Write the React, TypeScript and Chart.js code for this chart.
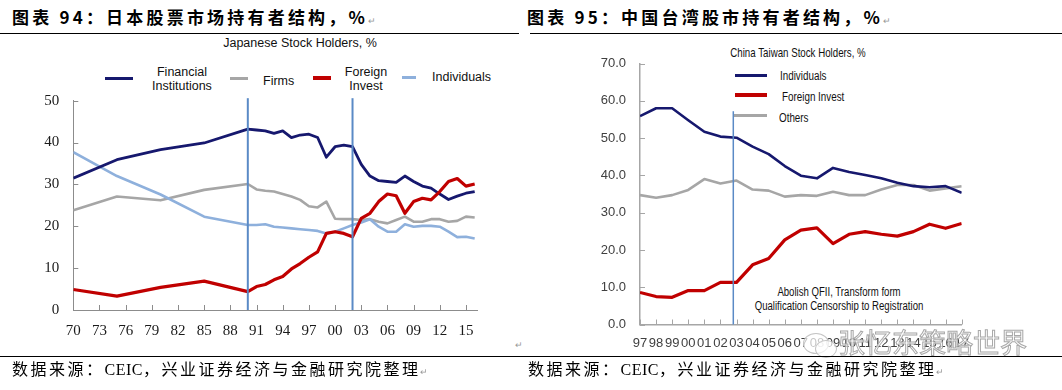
import React, { useEffect, useRef } from "react";
import { Chart, registerables } from "chart.js";

Chart.register(...registerables);

// ---------- Japan: Japanese Stock Holders, % ----------
const jpYears = [
  1970, 1975, 1980, 1985, 1990, 1991, 1992, 1993, 1994, 1995, 1996, 1997, 1998, 1999, 2000,
  2001, 2002, 2003, 2004, 2005, 2006, 2007, 2008, 2009, 2010, 2011, 2012, 2013, 2014, 2015, 2016,
];
const jpFinancial = [
  31.5, 35.9, 38.3, 39.9, 43.2, 43.0, 42.8, 42.2, 42.8, 41.2, 41.8, 42.0, 41.2, 36.5, 39.0,
  39.4, 39.0, 34.8, 32.0, 30.9, 30.7, 30.5, 32.0, 30.7, 29.6, 29.1, 27.7, 26.4, 27.2, 27.9, 28.3,
];
const jpFirms = [
  23.8, 27.1, 26.2, 28.7, 30.1, 28.8, 28.5, 28.3, 27.7, 27.1, 26.3, 24.8, 24.5, 25.9, 21.8,
  21.7, 21.7, 21.5, 21.7, 21.1, 20.7, 21.5, 22.3, 21.1, 21.1, 21.7, 21.7, 21.1, 21.3, 22.3, 22.1,
];
const jpForeign = [
  4.9, 3.3, 5.4, 6.9, 4.4, 5.6, 6.1, 7.2, 8.0, 9.8, 11.1, 12.6, 13.9, 18.3, 18.7,
  18.3, 17.5, 21.9, 23.1, 25.9, 27.7, 27.3, 23.1, 25.9, 26.7, 26.3, 28.3, 30.7, 31.4, 29.6, 30.1,
];
const jpIndividuals = [
  37.7, 32.0, 27.6, 22.3, 20.3, 20.3, 20.5, 19.9, 19.7, 19.5, 19.3, 19.1, 18.9, 18.3, 18.7,
  19.5, 20.3, 20.9, 21.7, 19.9, 18.7, 18.7, 20.5, 19.9, 20.1, 20.1, 19.9, 18.7, 17.4, 17.5, 17.1,
];
const jpTickYears = [1970, 1973, 1976, 1979, 1982, 1985, 1988, 1991, 1994, 1997, 2000, 2003, 2006, 2009, 2012, 2015];
const jpYTicks = [0, 10, 20, 30, 40, 50];
const jpMarkerYears = [1990, 2002];

// ---------- Taiwan: China Taiwan Stock Holders, % ----------
const twYears = [
  1997, 1998, 1999, 2000, 2001, 2002, 2003, 2004, 2005, 2006, 2007,
  2008, 2009, 2010, 2011, 2012, 2013, 2014, 2015, 2016, 2017,
];
const twIndividuals = [
  55.9, 58.0, 58.0, 54.8, 51.7, 50.4, 50.1, 47.7, 45.7, 42.5, 39.9,
  39.2, 42.0, 40.9, 40.1, 39.2, 38.0, 37.1, 36.8, 37.1, 35.3,
];
const twForeign = [
  8.6, 7.5, 7.3, 9.1, 9.1, 11.3, 11.3, 16.0, 17.7, 22.7, 25.3,
  25.9, 21.7, 24.2, 24.9, 24.2, 23.7, 24.9, 26.9, 25.8, 27.1,
];
const twOthers = [
  34.7, 34.0, 34.7, 36.1, 39.0, 37.8, 38.6, 36.2, 35.9, 34.3, 34.7,
  34.5, 35.6, 34.7, 34.7, 36.2, 37.4, 37.4, 35.9, 36.5, 37.1,
];
const twTickYears = twYears;
const twYTicks = [0, 10, 20, 30, 40, 50, 60, 70];
const twMarkerYear = 2002.8;
const twMarkerTop = 57.2;

// ---------- styles ----------
const NAVY = "#16186e";
const GRAY = "#a6a6a6";
const RED = "#c00000";
const LBLUE = "#8eb0dc";
const MARK = "#5a8ac6";
const SANS = "'Liberation Sans', Arial, sans-serif";
const SERIF = "'Liberation Serif', serif";
const CJK = "'Noto Sans CJK SC', sans-serif";

const pts = (xs: number[], ys: number[]) => xs.map((x, i) => ({ x, y: ys[i] }));
const twoDigit = (v: any) => String(Number(v) % 100).padStart(2, "0");

const decorPlugin = {
  id: "decor",
  afterDatasetsDraw(chart: any, _args: any, opts: any) {
    const { ctx, chartArea, scales } = chart;
    const x = scales.x;
    const y = scales.y;
    ctx.save();
    ctx.strokeStyle = opts.tickColor;
    ctx.lineWidth = 1;
    ctx.beginPath();
    x.ticks.forEach((t: any) => {
      const px = Math.round(x.getPixelForValue(t.value)) + 0.5;
      ctx.moveTo(px, chartArea.bottom);
      ctx.lineTo(px, chartArea.bottom - opts.tickLen);
    });
    y.ticks.forEach((t: any) => {
      const py = Math.round(y.getPixelForValue(t.value)) + 0.5;
      ctx.moveTo(chartArea.left, py);
      ctx.lineTo(chartArea.left + opts.tickLen, py);
    });
    ctx.stroke();
    ctx.strokeStyle = opts.markerColor;
    ctx.lineWidth = opts.markerWidth;
    (opts.markers || []).forEach((m: any) => {
      const px = x.getPixelForValue(m.x);
      const top = y.getPixelForValue(m.top);
      ctx.beginPath();
      ctx.moveTo(px, top);
      ctx.lineTo(px, chartArea.bottom);
      ctx.stroke();
    });
    ctx.restore();
  },
};

const abs = (s: React.CSSProperties): React.CSSProperties => ({ position: "absolute", whiteSpace: "pre", ...s });
const narrowL = (s: React.CSSProperties, k = 0.8): React.CSSProperties =>
  abs({ transform: `scaleX(${k})`, transformOrigin: "left center", ...s });
const narrowC = (s: React.CSSProperties, k = 0.8): React.CSSProperties =>
  abs({ transform: `scaleX(${k})`, transformOrigin: "center center", ...s });

export default function App() {
  const jpRef = useRef<HTMLCanvasElement>(null);
  const twRef = useRef<HTMLCanvasElement>(null);

  useEffect(() => {
    const line = { pointRadius: 0, tension: 0, fill: false, borderJoinStyle: "round" as const };
    const jp = new Chart(jpRef.current!, {
      type: "line",
      data: {
        datasets: [
          { label: "Foreign Invest", data: pts(jpYears, jpForeign), borderColor: RED, borderWidth: 3.2, ...line },
          { label: "Financial Institutions", data: pts(jpYears, jpFinancial), borderColor: NAVY, borderWidth: 2.8, ...line },
          { label: "Individuals", data: pts(jpYears, jpIndividuals), borderColor: LBLUE, borderWidth: 2.6, ...line },
          { label: "Firms", data: pts(jpYears, jpFirms), borderColor: GRAY, borderWidth: 2.6, ...line },
        ],
      },
      options: {
        responsive: false,
        animation: false,
        devicePixelRatio: 1,
        events: [],
        layout: { padding: { top: 10.7, right: 22.7, bottom: 0, left: 0 } },
        plugins: {
          legend: { display: false },
          tooltip: { enabled: false },
          decor: {
            tickColor: "#8c8c8c",
            tickLen: 5,
            markerColor: MARK,
            markerWidth: 2,
            markers: jpMarkerYears.map((m) => ({ x: m, top: 50.6 })),
          },
        } as any,
        scales: {
          x: {
            type: "linear",
            min: 1970,
            max: 2016.3,
            afterBuildTicks: (s: any) => {
              s.ticks = jpTickYears.map((v) => ({ value: v }));
            },
            afterFit: (s: any) => {
              s.height = 30;
            },
            grid: { drawOnChartArea: false, drawTicks: false },
            border: { color: "#8c8c8c", width: 1 },
            ticks: {
              callback: twoDigit,
              autoSkip: false,
              maxRotation: 0,
              minRotation: 0,
              padding: 12,
              color: "#1a1a1a",
              font: { family: SERIF, size: 15 },
            },
          },
          y: {
            min: 0,
            max: 50,
            afterBuildTicks: (s: any) => {
              s.ticks = jpYTicks.map((v) => ({ value: v }));
            },
            afterFit: (s: any) => {
              s.width = 73.3;
            },
            grid: { drawOnChartArea: false, drawTicks: true, tickLength: 14, tickColor: "rgba(0,0,0,0)" },
            border: { color: "#8c8c8c", width: 1 },
            ticks: {
              padding: 0,
              color: "#1a1a1a",
              font: { family: SERIF, size: 15 },
            },
          },
        },
      },
      plugins: [decorPlugin],
    });

    const tw = new Chart(twRef.current!, {
      type: "line",
      data: {
        datasets: [
          { label: "Individuals", data: pts(twYears, twIndividuals), borderColor: NAVY, borderWidth: 2.6, ...line },
          { label: "Foreign Invest", data: pts(twYears, twForeign), borderColor: RED, borderWidth: 3.2, ...line },
          { label: "Others", data: pts(twYears, twOthers), borderColor: GRAY, borderWidth: 2.6, ...line },
        ],
      },
      options: {
        responsive: false,
        animation: false,
        devicePixelRatio: 1,
        events: [],
        layout: { padding: { top: 13.5, right: 100.3, bottom: 0, left: 0 } },
        plugins: {
          legend: { display: false },
          tooltip: { enabled: false },
          decor: {
            tickColor: "#a6a6a6",
            tickLen: 5,
            markerColor: MARK,
            markerWidth: 1.5,
            markers: [{ x: twMarkerYear, top: twMarkerTop }],
          },
        } as any,
        scales: {
          x: {
            type: "linear",
            min: 1997,
            max: 2017,
            afterBuildTicks: (s: any) => {
              s.ticks = twTickYears.map((v) => ({ value: v }));
            },
            afterFit: (s: any) => {
              s.height = 30.5;
            },
            grid: { drawOnChartArea: false, drawTicks: false },
            border: { color: "#a6a6a6", width: 1.5 },
            ticks: {
              callback: twoDigit,
              autoSkip: false,
              maxRotation: 0,
              minRotation: 0,
              padding: 11,
              color: "#404040",
              font: { family: SANS, size: 13 },
            },
          },
          y: {
            min: 0,
            max: 70,
            afterBuildTicks: (s: any) => {
              s.ticks = twYTicks.map((v) => ({ value: v }));
            },
            afterFit: (s: any) => {
              s.width = 110;
            },
            grid: { drawOnChartArea: false, drawTicks: true, tickLength: 14, tickColor: "rgba(0,0,0,0)" },
            border: { color: "#a6a6a6", width: 1.5 },
            ticks: {
              callback: (v: any) => Number(v).toFixed(1),
              padding: 0,
              color: "#404040",
              font: { family: SANS, size: 13 },
            },
          },
        },
      },
      plugins: [decorPlugin],
    });

    return () => {
      jp.destroy();
      tw.destroy();
    };
  }, []);

  const retMark = { fontSize: 9, color: "#999", fontWeight: 400, letterSpacing: 0, fontFamily: SANS };
  const ceic = { fontFamily: SERIF, letterSpacing: 0.5 };

  return (
    <div style={{ position: "fixed", left: 0, top: 0, width: 1062, height: 390, background: "#fff", overflow: "hidden" }}>
      {/* headings */}
      <div style={abs({ left: 12, top: 6, font: `bold 17px ${CJK}`, lineHeight: "22px", letterSpacing: 3.2, color: "#000" })}>
        图表 94：日本股票市场持有者结构，%<span style={retMark}>↵</span>
      </div>
      <div style={abs({ left: 527, top: 6, font: `bold 17px ${CJK}`, lineHeight: "22px", letterSpacing: 3.2, color: "#000" })}>
        图表 95：中国台湾股市持有者结构，%<span style={retMark}>↵</span>
      </div>
      <div style={abs({ left: 0, top: 33, width: 519, height: 1, background: "#000" })} />
      <div style={abs({ left: 530, top: 33, width: 532, height: 1, background: "#000" })} />

      {/* Japan chart */}
      <div style={abs({ left: 200, top: 36, width: 200, textAlign: "center", font: `12.5px ${SANS}`, lineHeight: "14px", color: "#111" })}>
        Japanese Stock Holders, %
      </div>
      <div style={abs({ left: 105, top: 76.5, width: 28, height: 3.5, background: NAVY })} />
      <div style={abs({ left: 142, top: 66, width: 80, textAlign: "center", font: `12.5px ${SANS}`, lineHeight: "13.5px", color: "#111" })}>
        {"Financial\nInstitutions"}
      </div>
      <div style={abs({ left: 230, top: 76.5, width: 18, height: 3, background: GRAY })} />
      <div style={abs({ left: 263, top: 73.5, font: `12.5px ${SANS}`, lineHeight: "14px", color: "#111" })}>Firms</div>
      <div style={abs({ left: 313, top: 76, width: 18, height: 4, background: RED })} />
      <div style={abs({ left: 336, top: 66.3, width: 60, textAlign: "center", font: `12.5px ${SANS}`, lineHeight: "13.5px", color: "#111" })}>
        {"Foreign\nInvest"}
      </div>
      <div style={abs({ left: 402, top: 75.5, width: 14, height: 3, background: LBLUE })} />
      <div style={abs({ left: 432, top: 70, font: `12.5px ${SANS}`, lineHeight: "14px", color: "#111" })}>Individuals</div>
      <canvas ref={jpRef} width={500} height={250} style={{ position: "absolute", left: 0, top: 90, width: 500, height: 250 }} />

      {/* Taiwan chart */}
      <div style={narrowC({ left: 648, top: 45, width: 300, textAlign: "center", font: `13.5px ${SANS}`, lineHeight: "16px", color: "#111" }, 0.72)}>
        China Taiwan Stock Holders, %
      </div>
      <div style={abs({ left: 735, top: 73.5, width: 32, height: 3, background: NAVY })} />
      <div style={narrowL({ left: 780, top: 68, font: `12px ${SANS}`, lineHeight: "16px", color: "#111" }, 0.82)}>Individuals</div>
      <div style={abs({ left: 735, top: 93, width: 32, height: 4, background: RED })} />
      <div style={narrowL({ left: 782, top: 89, font: `12px ${SANS}`, lineHeight: "16px", color: "#111" }, 0.82)}>Foreign Invest</div>
      <div style={abs({ left: 733, top: 114, width: 34, height: 3, background: GRAY })} />
      <div style={narrowL({ left: 779, top: 110, font: `12px ${SANS}`, lineHeight: "16px", color: "#111" }, 0.82)}>Others</div>
      <div style={narrowC({ left: 689, top: 285, width: 300, textAlign: "center", font: `12px ${SANS}`, lineHeight: "14px", color: "#111" }, 0.8)}>
        {"Abolish QFII, Transform form\nQualification Censorship to Registration"}
      </div>
      <canvas ref={twRef} width={532} height={305} style={{ position: "absolute", left: 530, top: 50, width: 532, height: 305 }} />

      {/* watermark */}
      <div style={abs({ left: 803, top: 333, width: 24, height: 19, border: "1.5px solid #c4c4c4", borderRadius: "50%", background: "rgba(255,255,255,0.7)" })} />
      <div style={abs({ left: 815, top: 340, width: 20, height: 16, border: "1.5px solid #c4c4c4", borderRadius: "50%", background: "rgba(255,255,255,0.7)" })} />
      <div
        style={abs({
          left: 838,
          top: 326,
          font: `27px ${CJK}`,
          lineHeight: "32px",
          color: "rgba(255,255,255,0.75)",
          WebkitTextStroke: "1px #a8a8a8",
        } as React.CSSProperties)}
      >
        张忆东策略世界
      </div>

      {/* footer */}
      <div style={abs({ left: 0, top: 356, width: 1062, height: 1, background: "#000" })} />
      <div style={abs({ left: 515, top: 340, ...retMark })}>↵</div>
      <div style={abs({ left: 12, top: 358, font: `16px ${CJK}`, lineHeight: "21px", letterSpacing: 2.5, color: "#000" })}>
        数据来源：<span style={ceic}>CEIC</span>，兴业证券经济与金融研究院整理<span style={retMark}>↵</span>
      </div>
      <div style={abs({ left: 528, top: 358, font: `16px ${CJK}`, lineHeight: "21px", letterSpacing: 2.5, color: "#000" })}>
        数据来源：<span style={ceic}>CEIC</span>，兴业证券经济与金融研究院整理<span style={retMark}>↵</span>
      </div>
    </div>
  );
}
